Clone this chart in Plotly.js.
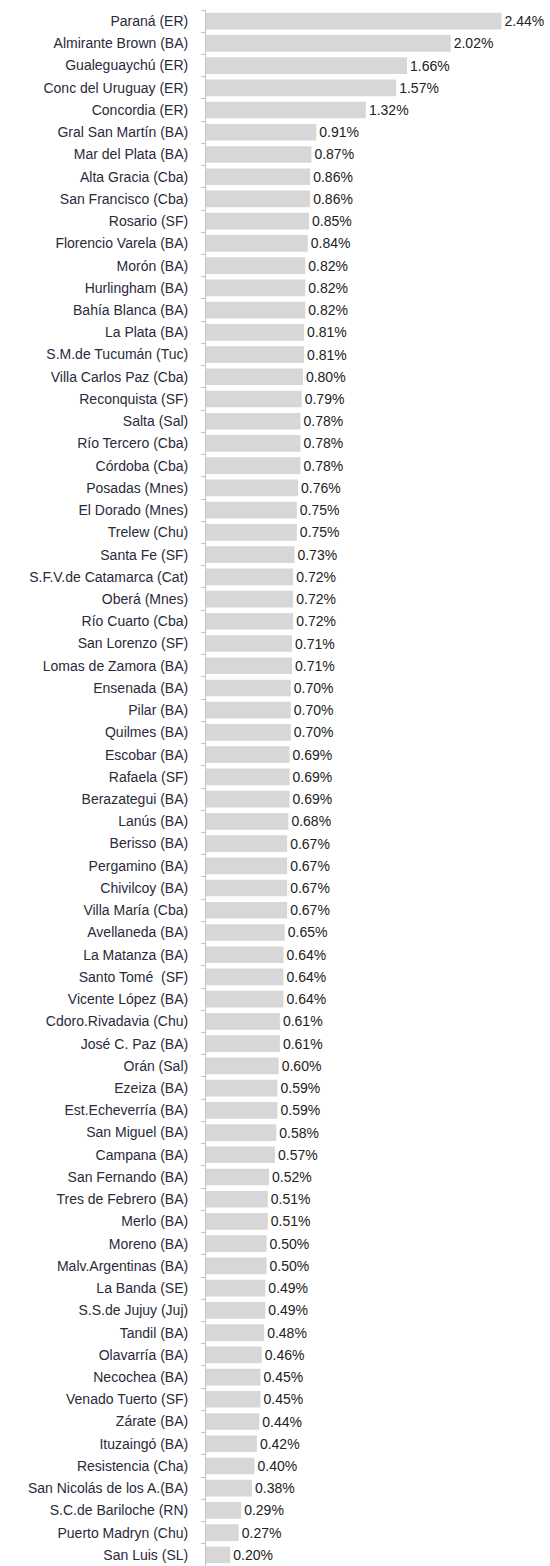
<!DOCTYPE html>
<html>
<head>
<meta charset="utf-8">
<script src="https://cdn.plot.ly/plotly-3.0.1.min.js"></script>
<style>
html,body{margin:0;padding:0;background:#fff;}
#chart{width:550px;height:1566px;}
</style>
</head>
<body>
<div id="chart"></div>
<script>
const cities = [
  "Paraná (ER)","Almirante Brown (BA)","Gualeguaychú (ER)","Conc del Uruguay (ER)","Concordia (ER)",
  "Gral San Martín (BA)","Mar del Plata (BA)","Alta Gracia (Cba)","San Francisco (Cba)","Rosario (SF)",
  "Florencio Varela (BA)","Morón (BA)","Hurlingham (BA)","Bahía Blanca (BA)","La Plata (BA)",
  "S.M.de Tucumán (Tuc)","Villa Carlos Paz (Cba)","Reconquista (SF)","Salta (Sal)","Río Tercero (Cba)",
  "Córdoba (Cba)","Posadas (Mnes)","El Dorado (Mnes)","Trelew (Chu)","Santa Fe (SF)",
  "S.F.V.de Catamarca (Cat)","Oberá (Mnes)","Río Cuarto (Cba)","San Lorenzo (SF)","Lomas de Zamora (BA)",
  "Ensenada (BA)","Pilar (BA)","Quilmes (BA)","Escobar (BA)","Rafaela (SF)",
  "Berazategui (BA)","Lanús (BA)","Berisso (BA)","Pergamino (BA)","Chivilcoy (BA)",
  "Villa María (Cba)","Avellaneda (BA)","La Matanza (BA)","Santo Tomé  (SF)","Vicente López (BA)",
  "Cdoro.Rivadavia (Chu)","José C. Paz (BA)","Orán (Sal)","Ezeiza (BA)","Est.Echeverría (BA)",
  "San Miguel (BA)","Campana (BA)","San Fernando (BA)","Tres de Febrero (BA)","Merlo (BA)",
  "Moreno (BA)","Malv.Argentinas (BA)","La Banda (SE)","S.S.de Jujuy (Juj)","Tandil (BA)",
  "Olavarría (BA)","Necochea (BA)","Venado Tuerto (SF)","Zárate (BA)","Ituzaingó (BA)",
  "Resistencia (Cha)","San Nicolás de los A.(BA)","S.C.de Bariloche (RN)","Puerto Madryn (Chu)","San Luis (SL)"
];
const values = [
  2.44,2.02,1.66,1.57,1.32,
  0.91,0.87,0.86,0.86,0.85,
  0.84,0.82,0.82,0.82,0.81,
  0.81,0.80,0.79,0.78,0.78,
  0.78,0.76,0.75,0.75,0.73,
  0.72,0.72,0.72,0.71,0.71,
  0.70,0.70,0.70,0.69,0.69,
  0.69,0.68,0.67,0.67,0.67,
  0.67,0.65,0.64,0.64,0.64,
  0.61,0.61,0.60,0.59,0.59,
  0.58,0.57,0.52,0.51,0.51,
  0.50,0.50,0.49,0.49,0.48,
  0.46,0.45,0.45,0.44,0.42,
  0.40,0.38,0.29,0.27,0.20
];

const trace = {
  type: 'bar',
  orientation: 'h',
  y: cities,
  x: values,
  marker: {color: '#d7d7d7', line: {width: 0}},
  texttemplate: '%{x:.2f}%',
  textposition: 'outside',
  textfont: {family: 'Arial, Liberation Sans, sans-serif', size: 14, color: '#222'},
  cliponaxis: false,
  hoverinfo: 'none'
};

const layout = {
  width: 550,
  height: 1566,
  margin: {l: 206, r: 0, t: 10, b: 0},
  paper_bgcolor: '#fff',
  plot_bgcolor: '#fff',
  bargap: 0.25,
  showlegend: false,
  xaxis: {range: [0, 2.84], visible: false, fixedrange: true},
  yaxis: {
    type: 'category',
    autorange: 'reversed',
    showline: true,
    linecolor: '#c4c4c4',
    linewidth: 1,
    ticks: 'outside',
    tickson: 'boundaries',
    ticklen: 4,
    tickcolor: '#c4c4c4',
    ticklabelstandoff: 14,
    showgrid: false,
    zeroline: false,
    tickfont: {family: 'Arial, Liberation Sans, sans-serif', size: 14, color: '#2a2a3a'}
  }
};

Plotly.newPlot('chart', [trace], layout, {staticPlot: true, displayModeBar: false});
</script>
</body>
</html>
